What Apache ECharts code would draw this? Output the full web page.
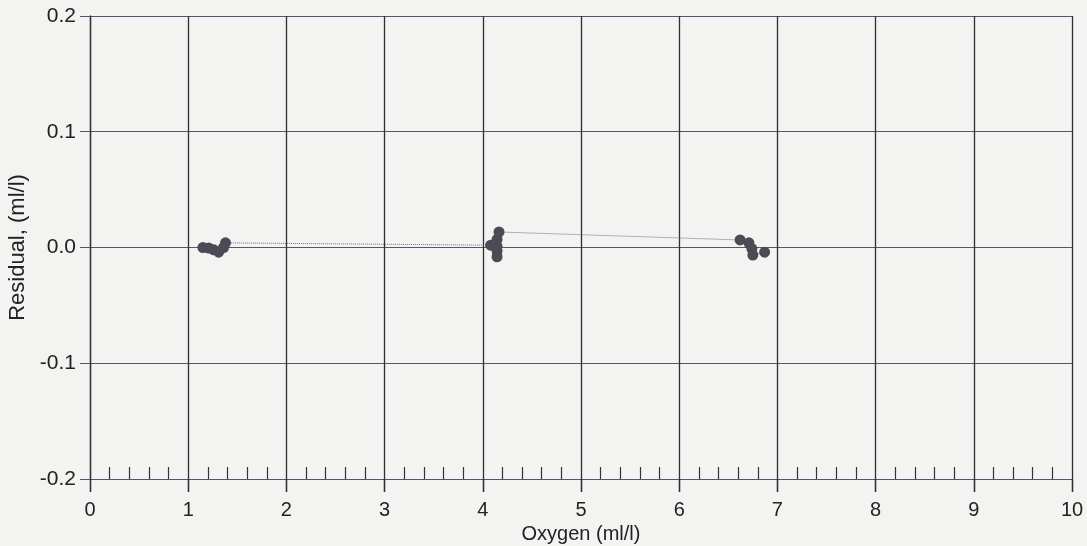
<!DOCTYPE html>
<html><head><meta charset="utf-8">
<script src="https://cdn.jsdelivr.net/npm/echarts@6/dist/echarts.min.js"></script>
<style>html,body{margin:0;padding:0;background:#f3f3f1}#c{width:1087px;height:546px}</style>
</head><body><div id="c"></div>
<script>
const oxygen = [1.15, 1.21, 1.26, 1.31, 1.36, 1.38, 4.08, 4.145, 4.145, 4.145, 4.145, 4.165, 6.62, 6.71, 6.74, 6.75, 6.87];
const residual = [0.000, -0.0005, -0.002, -0.004, 0.000, 0.004, 0.002, 0.001, -0.003, -0.008, 0.007, 0.0134, 0.0065, 0.004, -0.001, -0.0065, -0.004];
const xTicks = [0,1,2,3,4,5,6,7,8,9,10];
const yTicks = [-0.2,-0.1,0.0,0.1,0.2];

const chart = echarts.init(document.getElementById('c'));
const txt = {color:'#222', fontFamily:'Liberation Sans, Arial, sans-serif', fontSize:20};
chart.setOption({
  backgroundColor:'#f3f3f1',
  animation:false,
  grid:{left:90,right:15,top:16,bottom:67,containLabel:false,outerBoundsMode:'none'},
  xAxis:[{
    type:'value', min:xTicks[0], max:xTicks[xTicks.length-1], interval:1,
    name:'Oxygen (ml/l)', nameLocation:'middle', nameGap:38,
    nameTextStyle:Object.assign({}, txt, {fontSize:20}),
    axisLine:{show:true, onZero:false, lineStyle:{color:'#55556e', width:1}},
    axisTick:{show:true, inside:false, length:13, lineStyle:{color:'#2e2e34', width:1.3}},
    minorTick:{show:true, splitNumber:5, length:-12, lineStyle:{color:'#333', width:1.2}},
    axisLabel:Object.assign({margin:21, formatter:v=>String(v)}, txt),
    splitLine:{show:true, lineStyle:{color:'#2e2e34', width:1.3}}
  },{
    type:'value', min:xTicks[0], max:xTicks[xTicks.length-1], interval:1, position:'bottom',
    axisLine:{show:true, onZero:false, lineStyle:{color:'rgba(0,0,0,0)'}},
    axisLabel:{show:false}, splitLine:{show:false},
    axisTick:{show:true, inside:false, length:13, lineStyle:{color:'#2e2e34', width:1.3}}
  }],
  yAxis:{
    type:'value', min:yTicks[0], max:yTicks[yTicks.length-1], interval:0.1,
    name:'Residual, (ml/l)', nameLocation:'middle', nameGap:61,
    nameTextStyle:Object.assign({}, txt, {fontSize:22}),
    axisLine:{show:true, onZero:false, lineStyle:{color:'#333', width:1.3}},
    axisTick:{show:true, length:10, lineStyle:{color:'#55556e', width:1}},
    axisLabel:Object.assign({margin:14, formatter:v=>v.toFixed(1)}, txt, {fontSize:21}),
    splitLine:{show:true, lineStyle:{color:'#55556e', width:1}}
  },
  series:[{
    type:'line', xAxisIndex:0,
    data:oxygen.map((x,i)=>[x,residual[i]]),
    symbol:'circle', symbolSize:11, showSymbol:true,
    itemStyle:{color:'#4b4b55'},
    lineStyle:{color:'#6a6a8c', width:1, type:'dotted'},
    z:5
  }]
});
</script></body></html>
